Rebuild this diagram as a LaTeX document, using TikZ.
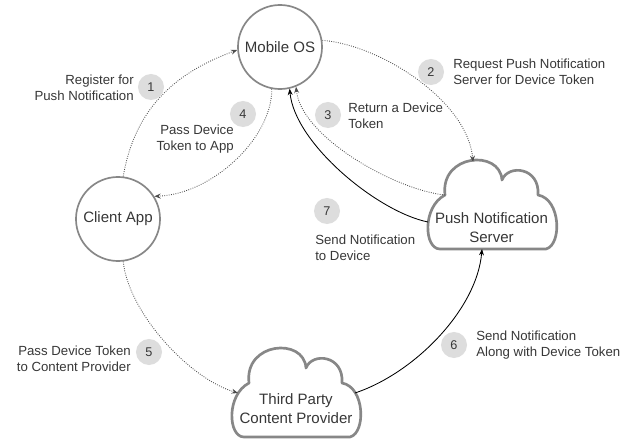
\documentclass[tikz,border=0pt]{standalone}
\usepackage{fontspec}
\setmainfont{Liberation Sans}
\usetikzlibrary{arrows.meta, positioning}
\definecolor{linegray}{RGB}{135,135,135}
\definecolor{badgegray}{RGB}{221,221,221}
\definecolor{textgray}{RGB}{55,55,55}

\begin{document}
\begin{tikzpicture}[
        x=0.025cm, y=-0.025cm,
        every node/.style={font=\fontsize{9.4}{11.3}\selectfont, text=textgray},
        actor/.style={draw=linegray, circle, line width=1.2pt, minimum size=2.1cm,
                      inner sep=0pt, font=\fontsize{10.7}{13.5}\selectfont},
        cloudtext/.style={align=center, inner sep=0pt, font=\fontsize{10.7}{13.5}\selectfont},
        badge/.style={circle, fill=badgegray, minimum size=0.65cm, inner sep=0pt,
                      font=\fontsize{9}{10}\selectfont},
        note/.style={inner sep=0pt, align=left},
        arr/.style={-{Stealth[length=4.5pt, width=3.5pt]}, line width=0.6pt},
        dotarr/.style={arr, densely dotted, black!70},
        cloudpic/.pic={
            \draw[linegray, line width=1.9pt, fill=white, line join=round]
                (12,0) .. controls (-4,0) and (-6,-42) .. (17,-54)
                .. controls (12,-95) and (72,-100) .. (74,-69)
                .. controls (80,-85) and (112,-82) .. (110,-54)
                .. controls (133,-50) and (134,-4) .. (118,0) -- cycle;
            \coordinate (-top)  at (45,-87);
            \coordinate (-lt)   at (17,-54);
            \coordinate (-left) at (0,-27);
            \coordinate (-bot)  at (54,0);
            \coordinate (-lb)   at (6,-44);
            \coordinate (-rb)   at (123,-44);
        }
    ]
        \useasboundingbox (0,0) rectangle (634,440);

        % actors
        \node[actor] (mobile) at (280,47)  {Mobile OS};
        \node[actor] (client) at (118,219) {Client App};
        \pic (push)  at (428,249) {cloudpic};
        \pic (third) at (232,437) {cloudpic};
        \node[cloudtext] (pushtxt)  at (491.5,228) {Push Notification\\Server};
        \node[cloudtext] (thirdtxt) at (296,409)   {Third Party\\Content Provider};

        % steps
        \draw[dotarr] (client.83)  .. controls +(12,-70) and +(-60,22) .. (mobile.184);
        \draw[dotarr] (mobile.9)   .. controls +(60,5) and +(-5,-60) .. (push-top);
        \draw[dotarr] (push-lt)    .. controls +(-50,-5) and +(5,50) .. (mobile.292);
        \draw[dotarr] (mobile.259) .. controls +(0,50) and +(57,-2) .. (client.32);
        \draw[dotarr] (client.277) .. controls +(5,50) and +(-50,-15) .. (third-lb);
        \draw[arr]    (third-rb)   .. controls +(60,-20) and +(-5,60) .. (push-bot);
        \draw[arr]    (push-left)  .. controls +(-50,-10) and +(5,55) .. (mobile.283);

        % numbers
        \node[badge] (b1) at (151,87)  {1};
        \node[badge] (b2) at (431,72)  {2};
        \node[badge] (b3) at (328,115) {3};
        \node[badge] (b4) at (243,114) {4};
        \node[badge] (b5) at (149,352) {5};
        \node[badge] (b6) at (454,345) {6};
        \node[badge] (b7) at (327,211) {7};

        % labels
        \node[note, anchor=east, align=right] (l1) at (134,88)  {Register for\\Push Notification};
        \node[note, anchor=west]              (l2) at (453,72)  {Request Push Notification\\Server for Device Token};
        \node[note, anchor=west]              (l3) at (348,116) {Return a Device\\Token};
        \node[note, anchor=east, align=right] (l4) at (234,139) {Pass Device\\Token to App};
        \node[note, anchor=east, align=right] (l5) at (131,359) {Pass Device Token\\to Content Provider};
        \node[note, anchor=west]              (l6) at (476,345) {Send Notification\\Along with Device Token};
        \node[note, anchor=west]              (l7) at (315,248) {Send Notification\\to Device};
    \end{tikzpicture}
\end{document}
